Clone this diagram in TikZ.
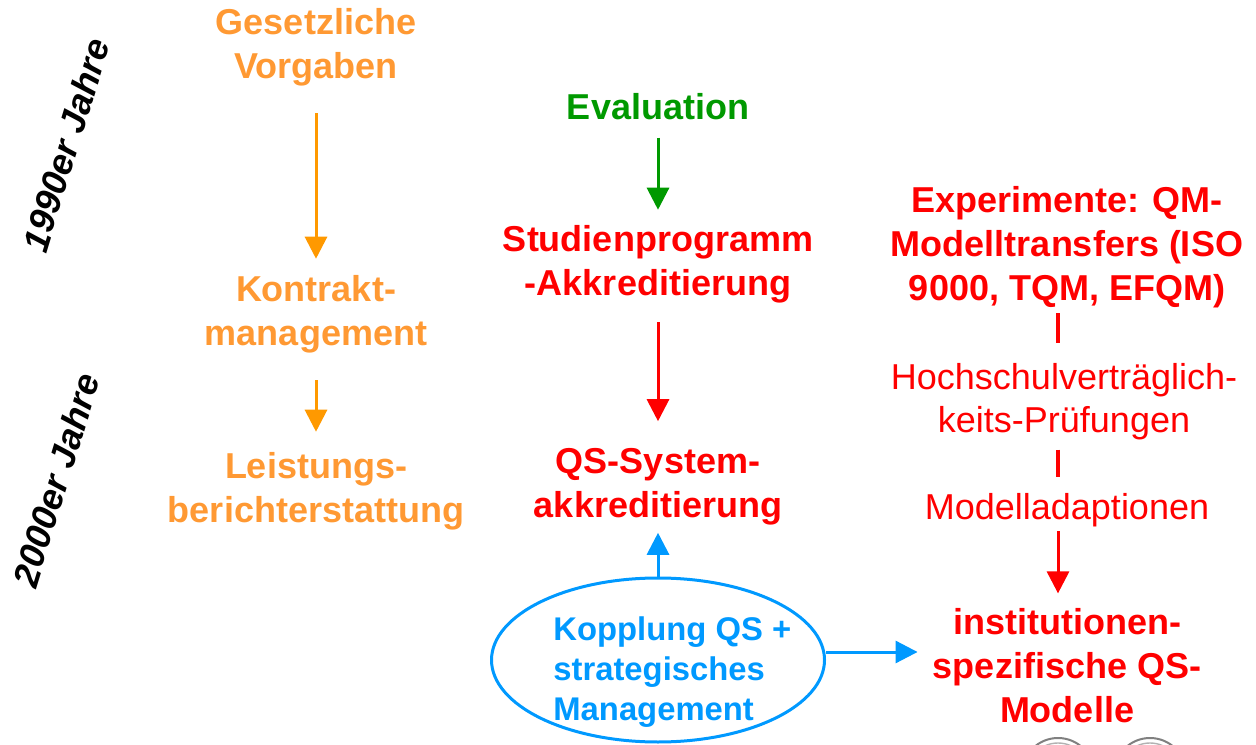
\documentclass[tikz,border=0pt]{standalone}
\usepackage{fontspec}
\setmainfont{Liberation Sans}
\usetikzlibrary{positioning, shapes, arrows.meta}

\definecolor{qorange}{RGB}{255,153,51}
\definecolor{qorangeline}{RGB}{255,153,0}
\definecolor{qgreen}{RGB}{0,153,0}
\definecolor{qred}{RGB}{255,0,0}
\definecolor{qblue}{RGB}{0,153,255}

\begin{document}
\begin{tikzpicture}[
    x=0.5pt, y=0.5pt,
    every node/.style={align=center, inner sep=0pt,
        font=\fontsize{18}{22}\selectfont},
    legal/.style={text=qorange, font=\fontsize{18}{22}\selectfont\bfseries},
    evalnode/.style={text=qgreen, font=\fontsize{18}{22}\selectfont\bfseries},
    accred/.style={text=qred, font=\fontsize{18}{22}\selectfont\bfseries},
    plain/.style={text=qred, font=\fontsize{18}{21.5}\selectfont},
    coupling/.style={ellipse, draw=qblue, line width=1.5pt,
        minimum width=166.5pt, minimum height=82pt},
    couplingtext/.style={text=qblue, align=left,
        font=\fontsize{16.4}{20}\selectfont\bfseries},
    decade/.style={rotate=73, font=\fontsize{18}{21.5}\selectfont\bfseries\itshape},
    flow/.style={line width=1.5pt, -{Triangle[width=11pt, length=11pt]}},
    bar/.style={line width=1.6pt, qred}
]
\useasboundingbox (0,0) rectangle (1256,744);

% Decades
\node[decade] (y1990) at (66,599) {1990er Jahre};
\node[decade] (y2000) at (56,264) {2000er Jahre};

% Left column
\node[legal] (gesetz) at (316,697) {Gesetzliche\\Vorgaben};
\node[legal] (kontrakt) at (316,430) {Kontrakt-\\management};
\node[legal] (leistung) at (316,253) {Leistungs-\\berichterstattung};

% Middle column
\node[evalnode] (eval) at (658,637) {Evaluation};
\node[accred] (studien) at (658,480) {Studienprogramm\\-Akkreditierung};
\node[accred] (qssys) at (658,257) {QS-System-\\akkreditierung};
\node[coupling] (kopplung) at (658,84) {};
\node[couplingtext, right=0pt of kopplung.center, xshift=-52.5pt, yshift=-6pt, anchor=west] (kopplungtext) {Kopplung QS +\\strategisches\\Management};

% Right column
\node[accred] (experi) at (1067,497) {Experimente: QM-\\Modelltransfers (ISO\\9000, TQM, EFQM)};
\node[plain] (hochschul) at (1064,342) {Hochschulverträglich-\\keits-Prüfungen};
\node[plain] (adapt) at (1067,234) {Modelladaptionen};
\node[accred] (instit) at (1067,78) {institutionen-\\spezifische QS-\\Modelle};

% Connectors
\draw[flow, qorangeline, shorten <=13.5pt, shorten >=8pt] (gesetz) -- (kontrakt);
\draw[flow, qorangeline, shorten <=13.5pt, shorten >=10pt] (kontrakt) -- (leistung);
\draw[flow, qgreen, shorten <=8.5pt, shorten >=7.5pt] (eval) -- (studien);
\draw[flow, qred, shorten <=9.5pt, shorten >=13.5pt] (studien) -- (qssys);
\draw[flow, qblue, shorten >=3.5pt] (kopplung) -- (qssys);
\draw[flow, qblue, shorten >=7.5pt] ([yshift=4]kopplung.east) -- ([yshift=4]kopplung.east -| instit.west);
\draw[bar, shorten <=2.5pt, shorten >=10pt] ([xshift=-4.5pt]experi.south) -- ([xshift=-4.5pt]experi.south |- hochschul.north);
\draw[bar, shorten <=4.5pt, shorten >=8pt] ([xshift=-4.5pt]hochschul.south -| experi.south) -- ([xshift=-4.5pt]adapt.north);
\draw[flow, qred, shorten <=2pt, shorten >=7.5pt] ([xshift=-4.5pt]adapt.south) -- ([xshift=-4.5pt]instit.north);

% Clipped pictures at the bottom edge
\draw[gray, line width=1pt] (1058,-30) circle (36);
\draw[gray!60, line width=0.7pt] (1058,-30) circle (31);
\draw[gray, line width=1pt] (1150,-30) circle (36);
\draw[gray!60, line width=0.7pt] (1150,-30) circle (31);

\end{tikzpicture}
\end{document}
